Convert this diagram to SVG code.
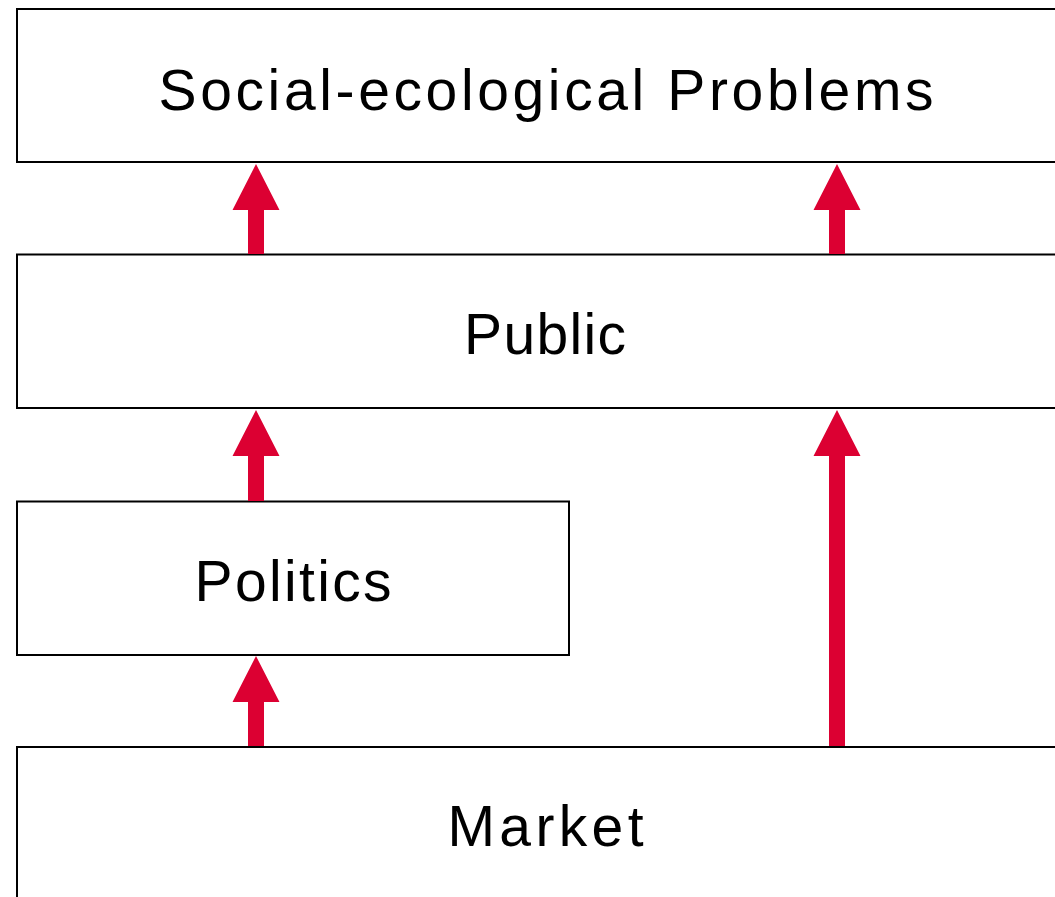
<svg xmlns="http://www.w3.org/2000/svg" width="1055" height="897" viewBox="0 0 1055 897">
<style>
.box{fill:#fff;stroke:#000;stroke-width:2}
.lbl{font-family:"Liberation Sans",Arial,sans-serif;font-size:57px;fill:#000;text-anchor:middle}
.arr{fill:#dc0032}
</style>
<rect x="0" y="0" width="1055" height="897" fill="#fff"/>
<g id="node-problems">
<rect class="box" x="17" y="9" width="1060" height="153"/>
<text class="lbl" x="546" y="110" textLength="775" lengthAdjust="spacing">Social-ecological Problems</text>
</g>
<g id="node-public">
<rect class="box" x="17" y="254.5" width="1060" height="153.5"/>
<text class="lbl" x="545" y="354" textLength="162" lengthAdjust="spacing">Public</text>
</g>
<g id="node-politics">
<rect class="box" x="17" y="501.5" width="552" height="153.5"/>
<text class="lbl" x="293" y="601" textLength="197" lengthAdjust="spacing">Politics</text>
</g>
<g id="node-market">
<rect class="box" x="17" y="747" width="1060" height="170"/>
<text class="lbl" x="545.5" y="846" textLength="196" lengthAdjust="spacing">Market</text>
</g>
<g id="connectors">
<polygon class="arr" points="256,164 279.5,210 264,210 264,254 248,254 248,210 232.5,210"/>
<polygon class="arr" points="837,164 860.5,210 845,210 845,254 829,254 829,210 813.5,210"/>
<polygon class="arr" points="256,410 279.5,456 264,456 264,501 248,501 248,456 232.5,456"/>
<polygon class="arr" points="837,410 860.5,456 845,456 845,746 829,746 829,456 813.5,456"/>
<polygon class="arr" points="256,656 279.5,702 264,702 264,746 248,746 248,702 232.5,702"/>
</g>
</svg>
